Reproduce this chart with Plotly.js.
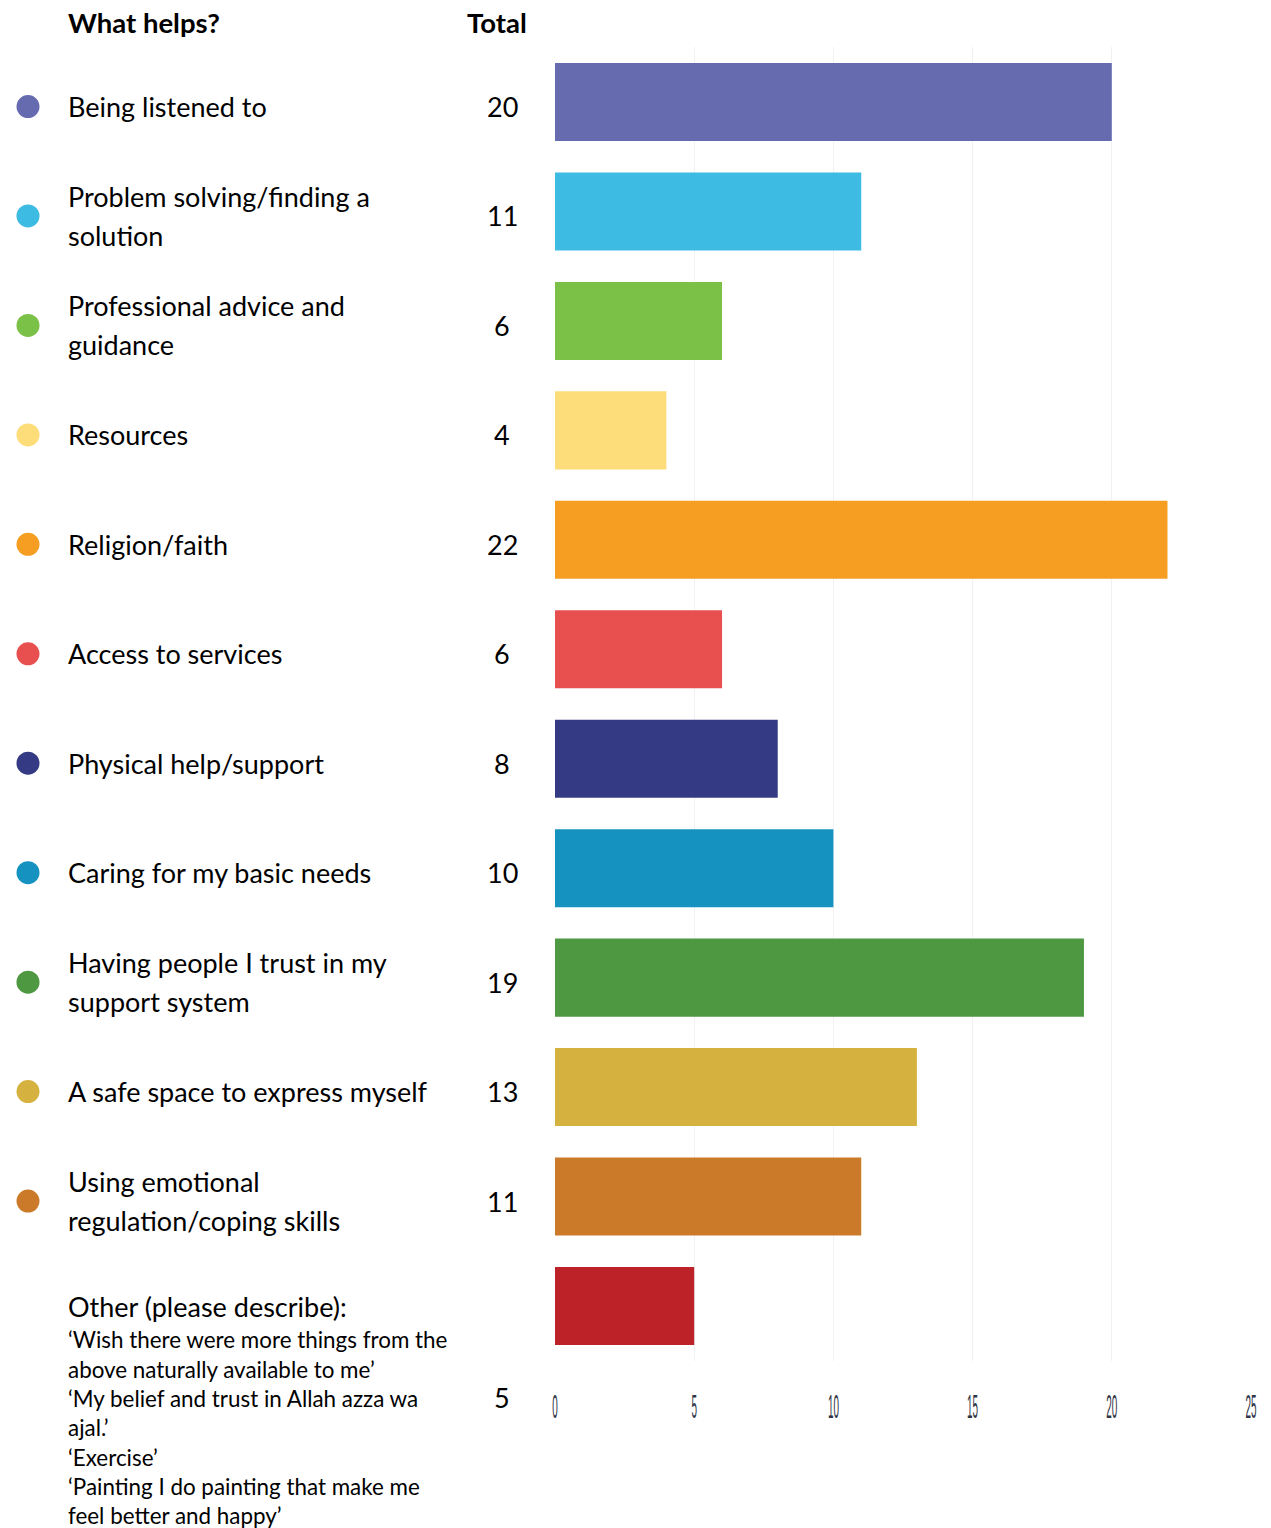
<!DOCTYPE html>
<html>
<head>
<meta charset="utf-8">
<script src="https://cdn.plot.ly/plotly-3.0.1.min.js"></script>
<style>html,body{margin:0;padding:0;background:#fff;}#chart{width:1271px;height:1528px;}</style>
</head>
<body>
<div id="chart"></div>
<script>
// ---- data ----
const categories = [
  "Being listened to",
  "Problem solving/finding a solution",
  "Professional advice and guidance",
  "Resources",
  "Religion/faith",
  "Access to services",
  "Physical help/support",
  "Caring for my basic needs",
  "Having people I trust in my support system",
  "A safe space to express myself",
  "Using emotional regulation/coping skills",
  "Other (please describe):"
];
const labelLines = [
  ["Being listened to"],
  ["Problem solving/finding a", "solution"],
  ["Professional advice and", "guidance"],
  ["Resources"],
  ["Religion/faith"],
  ["Access to services"],
  ["Physical help/support"],
  ["Caring for my basic needs"],
  ["Having people I trust in my", "support system"],
  ["A safe space to express myself"],
  ["Using emotional", "regulation/coping skills"],
  ["Other (please describe):"]
];
const totals = [20, 11, 6, 4, 22, 6, 8, 10, 19, 13, 11, 5];
const colors = ["#666BB0", "#3DBBE3", "#7BC047", "#FDDC7A", "#F59E22", "#E85050",
                "#343B84", "#1592BF", "#4F9842", "#D5B140", "#CB7A29", "#BC2227"];
const otherResponses = [
  "\u2018Wish there were more things from the",
  "above naturally available to me\u2019",
  "\u2018My belief and trust in Allah azza wa",
  "ajal.\u2019",
  "\u2018Exercise\u2019",
  "\u2018Painting I do painting that make me",
  "feel better and happy\u2019"
];
const headerLabel = "What helps?";
const headerTotal = "Total";
const xTicks = [0, 5, 10, 15, 20, 25];

// ---- layout helpers ----
const W = 1271, H = 1528;
const FONT = "Lato, 'Noto Sans', sans-serif";
const labelX = 66 / W, numX = 502 / W, dotX = 28 / W;
const lineGap = 39;           // px between wrapped label lines
const rowDrop = -4.5;         // text sits slightly below bar centre
const otherShift = -92;       // px offset of Other's dot / total
const respStart = -34, respGap = 29.3;

const annotations = [];
const shapes = [];
const last = categories.length - 1;

categories.forEach((cat, i) => {
  const lines = labelLines[i];
  const n = lines.length;
  const isOther = (i === last);
  lines.forEach((ln, k) => {
    annotations.push({
      xref: "paper", yref: "y", x: labelX, y: cat, xanchor: "left", yanchor: "middle",
      text: ln, showarrow: false, font: {family: FONT, size: 27, color: "#000"},
      yshift: ((n - 1) / 2 - k) * lineGap + (isOther ? -1 : rowDrop)
    });
  });
  const off = isOther ? otherShift : rowDrop;
  annotations.push({
    xref: "paper", yref: "y", x: numX, y: cat, xanchor: "center", yanchor: "middle",
    text: String(totals[i]), showarrow: false, font: {family: FONT, size: 27, color: "#000"},
    yshift: off
  });
  shapes.push({
    type: "circle", xref: "paper", yref: "y",
    xsizemode: "pixel", ysizemode: "pixel", xanchor: dotX, yanchor: cat,
    x0: -11.5, x1: 11.5, y0: -11.5 + off, y1: 11.5 + off,
    fillcolor: colors[i], line: {width: 0}
  });
});

otherResponses.forEach((ln, k) => {
  annotations.push({
    xref: "paper", yref: "y", x: labelX, y: categories[last], xanchor: "left", yanchor: "middle",
    text: ln, showarrow: false, font: {family: FONT, size: 22.4, color: "#000"},
    yshift: respStart - k * respGap
  });
});

annotations.push({
  xref: "paper", yref: "paper", x: labelX, y: (H - 22) / H, xanchor: "left", yanchor: "middle",
  text: "<b>" + headerLabel + "</b>", showarrow: false, font: {family: FONT, size: 27.5, color: "#000"}
});
annotations.push({
  xref: "paper", yref: "paper", x: 529 / W, y: (H - 22) / H, xanchor: "right", yanchor: "middle",
  text: "<b>" + headerTotal + "</b>", showarrow: false, font: {family: FONT, size: 27.5, color: "#000"}
});

const trace = {
  type: "bar", orientation: "h",
  y: categories, x: totals,
  width: 0.713,
  marker: {color: colors, line: {width: 0}},
  hoverinfo: "x+y"
};

const layout = {
  width: W, height: H,
  margin: {l: 0, r: 0, t: 0, b: 0},
  paper_bgcolor: "#fff", plot_bgcolor: "#fff",
  showlegend: false,
  xaxis: {
    domain: [555 / W, 1251 / W], range: [0, 25],
    tickvals: xTicks, ticktext: xTicks.map(String),
    showgrid: true, gridcolor: "#f1f1f4", gridwidth: 1,
    zeroline: false, showline: false, ticks: "",
    tickfont: {family: "'Liberation Sans', Arial, sans-serif", size: 22, color: "#2f3545"},
    ticklabelstandoff: 30
  },
  yaxis: {
    type: "category", categoryorder: "array", categoryarray: categories,
    autorange: "reversed",
    domain: [(H - 1360.7) / H, (H - 47.3) / H],
    showticklabels: false, showgrid: false, zeroline: false, showline: false, ticks: ""
  },
  annotations: annotations,
  shapes: shapes
};

Plotly.newPlot("chart", [trace], layout, {displayModeBar: false, staticPlot: true}).then(gd => {
  // the reference axis numbers are drawn in a very condensed, tall style
  gd.querySelectorAll(".xtick text").forEach(t => {
    const b = t.getBBox();
    const cx = b.x + b.width / 2, cy = b.y + b.height / 2;
    const prev = t.getAttribute("transform") || "";
    t.setAttribute("transform", prev + ` translate(${cx},${cy}) scale(0.45,1.55) translate(${-cx},${-cy})`);
  });
});
</script>
</body>
</html>
